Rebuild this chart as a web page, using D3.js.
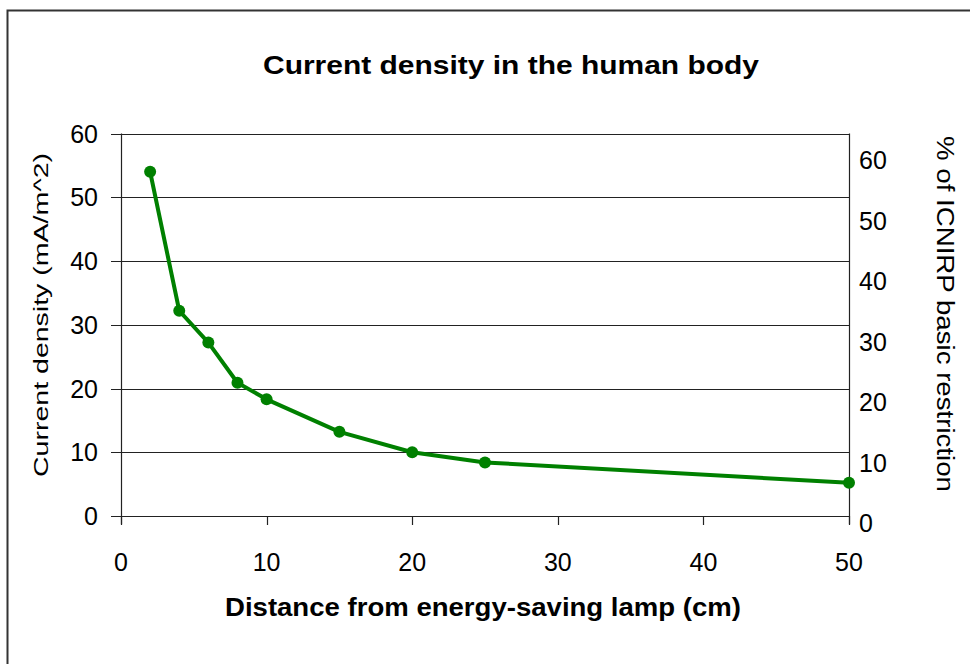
<!DOCTYPE html>
<html>
<head>
<meta charset="utf-8">
<script src="https://cdn.jsdelivr.net/npm/d3@7"></script>
<style>
  body { margin: 0; background: #fff; }
  svg text { font-family: "Liberation Sans", Arial, sans-serif; fill: #000; }
</style>
</head>
<body>
<div id="chart"></div>
<script>
// distance from lamp (cm) and current density (mA/m^2)
const distances = [2, 4, 6, 8, 10, 15, 20, 25, 50];
const densities = [54.0, 32.2, 27.2, 20.9, 18.3, 13.2, 10.0, 8.4, 5.2];
const xTicks = [0, 10, 20, 30, 40, 50];
const yTicks = [0, 10, 20, 30, 40, 50, 60];
const pctTicks = [0, 10, 20, 30, 40, 50, 60];

const W = 970, H = 664;
const svg = d3.select('#chart').append('svg')
  .attr('width', W)
  .attr('height', H);

svg.append('rect')
  .attr('width', W).attr('height', H)
  .attr('fill', '#fff');

// chart frame (runs off right and bottom edge)
svg.append('path')
  .attr('d', `M7.5,${H + 5}V10.5H${W + 5}`)
  .attr('fill', 'none')
  .attr('stroke', '#333')
  .attr('stroke-width', 2);

const plotL = 121, plotR = 849, plotT = 133.5, plotB = 516;

const x = d3.scaleLinear().domain([0, 50]).range([plotL, plotR]);
const y = d3.scaleLinear().domain([0, 60]).range([plotB, plotT]);
const yPct = d3.scaleLinear().domain([0, 60]).range([523, 160]);

const tickFont = '25px';

// gridlines
svg.append('g')
  .selectAll('line')
  .data(yTicks)
  .join('line')
  .attr('x1', plotL - 10)
  .attr('x2', plotR)
  .attr('y1', d => Math.round(y(d)) + 0.5)
  .attr('y2', d => Math.round(y(d)) + 0.5)
  .attr('stroke', '#222')
  .attr('stroke-width', 1.2);

// left axis
svg.append('line')
  .attr('x1', plotL + 0.5).attr('x2', plotL + 0.5)
  .attr('y1', plotT).attr('y2', plotB + 8)
  .attr('stroke', '#222').attr('stroke-width', 1.2);

svg.append('g')
  .selectAll('text')
  .data(yTicks)
  .join('text')
  .attr('x', 98)
  .attr('y', d => y(d))
  .attr('dy', '0.36em')
  .attr('text-anchor', 'end')
  .style('font-size', tickFont)
  .text(d => d);

// right axis
svg.append('line')
  .attr('x1', plotR + 0.5).attr('x2', plotR + 0.5)
  .attr('y1', plotT).attr('y2', plotB + 8)
  .attr('stroke', '#222').attr('stroke-width', 1.2);

svg.append('g')
  .selectAll('text')
  .data(pctTicks)
  .join('text')
  .attr('x', 859)
  .attr('y', d => yPct(d))
  .attr('dy', '0.36em')
  .attr('text-anchor', 'start')
  .style('font-size', tickFont)
  .text(d => d);

// x axis ticks and labels
svg.append('g')
  .selectAll('line')
  .data(xTicks)
  .join('line')
  .attr('x1', d => Math.round(x(d)) + 0.5)
  .attr('x2', d => Math.round(x(d)) + 0.5)
  .attr('y1', plotB)
  .attr('y2', plotB + 9)
  .attr('stroke', '#222').attr('stroke-width', 1.2);

svg.append('g')
  .selectAll('text')
  .data(xTicks)
  .join('text')
  .attr('x', d => x(d))
  .attr('y', 562)
  .attr('dy', '0.36em')
  .attr('text-anchor', 'middle')
  .style('font-size', tickFont)
  .text(d => d);

// series
const line = d3.line()
  .x(d => x(d[0]))
  .y(d => y(d[1]));
const pts = distances.map((d, i) => [d, densities[i]]);

svg.append('path')
  .datum(pts)
  .attr('d', line)
  .attr('fill', 'none')
  .attr('stroke', '#008000')
  .attr('stroke-width', 4)
  .attr('stroke-linejoin', 'round');

svg.append('g')
  .selectAll('circle')
  .data(pts)
  .join('circle')
  .attr('cx', d => x(d[0]))
  .attr('cy', d => y(d[1]))
  .attr('r', 6)
  .attr('fill', '#008000');

// titles
svg.append('text')
  .attr('x', 511).attr('y', 65)
  .attr('dy', '0.36em')
  .attr('text-anchor', 'middle')
  .attr('textLength', 496)
  .attr('lengthAdjust', 'spacingAndGlyphs')
  .style('font-size', '26px')
  .style('font-weight', 'bold')
  .text('Current density in the human body');

svg.append('text')
  .attr('x', 483).attr('y', 607)
  .attr('dy', '0.36em')
  .attr('text-anchor', 'middle')
  .attr('textLength', 516)
  .attr('lengthAdjust', 'spacingAndGlyphs')
  .style('font-size', '25px')
  .style('font-weight', 'bold')
  .text('Distance from energy-saving lamp (cm)');

svg.append('text')
  .attr('transform', 'translate(40,315) rotate(-90)')
  .attr('dy', '0.36em')
  .attr('text-anchor', 'middle')
  .attr('textLength', 324)
  .attr('lengthAdjust', 'spacingAndGlyphs')
  .style('font-size', '21px')
  .text('Current density (mA/m^2)');

svg.append('text')
  .attr('transform', 'translate(945,314) rotate(90)')
  .attr('dy', '0.36em')
  .attr('text-anchor', 'middle')
  .attr('textLength', 356)
  .attr('lengthAdjust', 'spacingAndGlyphs')
  .style('font-size', '23px')
  .text('% of ICNIRP basic restriction');
</script>
</body>
</html>
